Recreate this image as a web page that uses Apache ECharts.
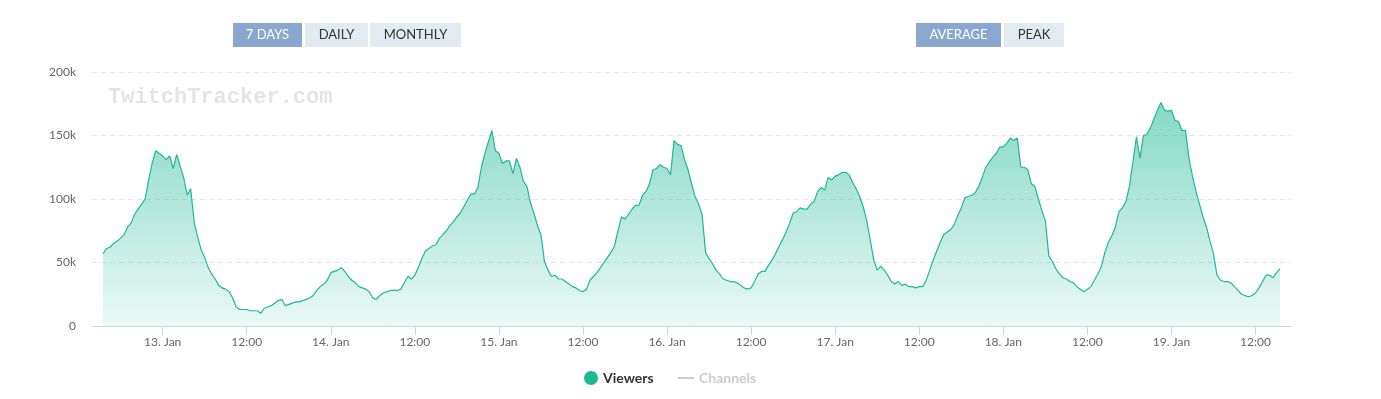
<!DOCTYPE html>
<html>
<head>
<meta charset="utf-8">
<title>Viewers - 7 days</title>
<script src="https://cdn.jsdelivr.net/npm/echarts@6/dist/echarts.min.js"></script>
<style>
  html, body { margin: 0; padding: 0; background: #fff; }
  #chart { width: 1381px; height: 399px; }
</style>
</head>
<body>
<div id="chart"></div>
<script>
// viewers in thousands, one reading every 30 minutes from 12 Jan 15:30
const startTime = Date.UTC(2025, 0, 12, 15, 30);
const stepMs = 30 * 60 * 1000;
const viewers = [
  57, 61, 62, 65, 67, 69, 72, 78, 81, 88, 92, 96, 100, 115, 128, 138, 136, 134, 131, 134, 124, 135, 126, 117,
  103, 108, 82, 70, 60, 54, 46, 41, 37, 32, 30, 29, 27, 22, 15, 13, 13, 13, 12, 12, 12, 10, 14, 15,
  16, 18, 20, 21, 16, 17, 18, 19, 19, 20, 21, 22, 24, 28, 31, 33, 36, 42, 43, 44, 46, 43, 39, 36,
  34, 31, 30, 29, 27, 22, 21, 24, 26, 27, 28, 28, 28, 29, 34, 39, 37, 40, 46, 53, 59, 61, 63, 64,
  69, 72, 75, 79, 82, 86, 89, 94, 99, 104, 104, 109, 125, 136, 145, 154, 138, 136, 128, 130, 130, 120, 132, 125,
  114, 110, 97, 89, 79, 72, 51, 44, 39, 40, 37, 37, 35, 33, 31, 30, 28, 27, 29, 36, 39, 42, 46, 50,
  54, 58, 63, 75, 86, 84, 88, 92, 95, 95, 103, 106, 112, 123, 124, 127, 125, 124, 119, 146, 143, 142, 131, 123,
  112, 102, 96, 88, 58, 53, 49, 44, 41, 37, 36, 35, 35, 34, 32, 30, 29, 30, 35, 41, 43, 43, 48, 52,
  57, 63, 68, 74, 81, 89, 90, 93, 92, 92, 96, 98, 106, 109, 107, 117, 115, 118, 119, 121, 121, 119, 113, 108,
  102, 94, 83, 68, 52, 44, 47, 44, 40, 35, 33, 35, 32, 33, 31, 31, 30, 31, 31, 36, 44, 52, 59, 66,
  72, 74, 76, 80, 87, 93, 101, 102, 103, 105, 110, 117, 125, 129, 133, 136, 141, 141, 144, 148, 146, 148, 125, 125,
  123, 112, 110, 100, 91, 83, 55, 51, 45, 41, 38, 37, 35, 34, 31, 29, 27, 29, 31, 36, 41, 47, 58, 66,
  71, 78, 90, 93, 98, 110, 129, 149, 132, 150, 151, 156, 163, 170, 176, 170, 169, 170, 162, 161, 154, 154, 132, 118,
  106, 96, 86, 78, 67, 57, 40, 36, 35, 35, 34, 31, 28, 25, 24, 23, 24, 26, 30, 35, 40, 40, 38, 42, 45
];

// x ticks every 12h starting 13 Jan 00:00
const tickStart = Date.UTC(2025, 0, 13, 0, 0);
const tickLabels = ['13. Jan', '12:00', '14. Jan', '12:00', '15. Jan', '12:00', '16. Jan', '12:00',
  '17. Jan', '12:00', '18. Jan', '12:00', '19. Jan', '12:00'];
const yTicks = [0, 50, 100, 150, 200];

const rangeButtons = [
  { text: '7 DAYS', x: 233, w: 69, active: true },
  { text: 'DAILY', x: 305, w: 63 },
  { text: 'MONTHLY', x: 370, w: 91 }
];
const modeButtons = [
  { text: 'AVERAGE', x: 916, w: 85, active: true },
  { text: 'PEAK', x: 1004, w: 60 }
];

const tickTimes = tickLabels.map((_, i) => tickStart + i * 12 * 3600 * 1000);
const viewerData = viewers.map((v, i) => [startTime + i * stepMs, v]);

const font = 'Lato, "Noto Sans", sans-serif';

const buttonGraphics = rangeButtons.concat(modeButtons).map(b => ({
  type: 'group',
  left: b.x,
  top: 23,
  children: [
    {
      type: 'rect',
      shape: { x: 0, y: 0, width: b.w, height: 24 },
      style: { fill: b.active ? '#8aa7d0' : '#e2eaf2' }
    },
    {
      type: 'text',
      x: b.w / 2,
      y: 12,
      style: {
        text: b.text,
        fill: b.active ? '#fff' : '#333',
        font: '13px ' + font,
        textAlign: 'center',
        textVerticalAlign: 'middle'
      }
    }
  ]
}));

const legendText = { fontSize: 14, fontWeight: 'bold', color: '#333', fontFamily: font };

const chart = echarts.init(document.getElementById('chart'));

chart.setOption({
  animation: false,
  textStyle: { fontFamily: font },
  grid: { left: 92, right: 90, top: 72, bottom: 73 },
  graphic: buttonGraphics.concat([
    {
      type: 'text',
      left: 108,
      top: 86,
      z: 0,
      style: {
        text: 'TwitchTracker.com',
        fill: '#e4e4e4',
        font: 'bold 22px "Liberation Mono", "DejaVu Sans Mono", monospace'
      }
    }
  ]),
  legend: [
    {
      left: 584,
      top: 371,
      padding: 0,
      itemWidth: 14,
      itemHeight: 14,
      itemGap: 6,
      textStyle: legendText,
      data: [{ name: 'Viewers', icon: 'circle' }]
    },
    {
      left: 678,
      top: 371,
      padding: 0,
      itemWidth: 16,
      itemHeight: 2,
      inactiveColor: '#cccccc',
      textStyle: legendText,
      data: [{ name: 'Channels', icon: 'rect' }],
      selected: { Channels: false }
    }
  ],
  xAxis: {
    type: 'value',
    min: Date.UTC(2025, 0, 12, 13, 55),
    max: Date.UTC(2025, 0, 19, 17, 4),
    axisLine: { lineStyle: { color: '#ccd6eb', width: 1 } },
    axisTick: {
      show: true,
      length: 9,
      customValues: tickTimes,
      lineStyle: { color: '#ccd6eb' }
    },
    axisLabel: {
      customValues: tickTimes,
      margin: 10,
      fontSize: 12,
      color: '#666',
      formatter: (v) => {
        const i = tickTimes.indexOf(v);
        return i >= 0 ? tickLabels[i] : '';
      }
    },
    splitLine: { show: false }
  },
  yAxis: {
    type: 'value',
    min: yTicks[0],
    max: yTicks[yTicks.length - 1],
    interval: 50,
    axisLine: { show: false },
    axisTick: { show: false },
    axisLabel: {
      margin: 16,
      fontSize: 12,
      color: '#666',
      formatter: (v) => v === 0 ? '0' : v + 'k'
    },
    splitLine: { lineStyle: { color: '#e6e6e6', type: [5, 4] } }
  },
  series: [
    {
      name: 'Viewers',
      type: 'line',
      showSymbol: false,
      symbol: 'circle',
      data: viewerData,
      color: '#1fb896',
      lineStyle: { width: 1.2, color: '#1fb896' },
      areaStyle: {
        color: new echarts.graphic.LinearGradient(0, 0, 0, 1, [
          { offset: 0, color: 'rgba(31,184,150,0.78)' },
          { offset: 1, color: 'rgba(31,184,150,0.13)' }
        ])
      },
      z: 3
    },
    {
      name: 'Channels',
      type: 'line',
      symbol: 'none',
      color: '#cccccc',
      lineStyle: { width: 2 },
      data: []
    }
  ]
});
</script>
</body>
</html>
